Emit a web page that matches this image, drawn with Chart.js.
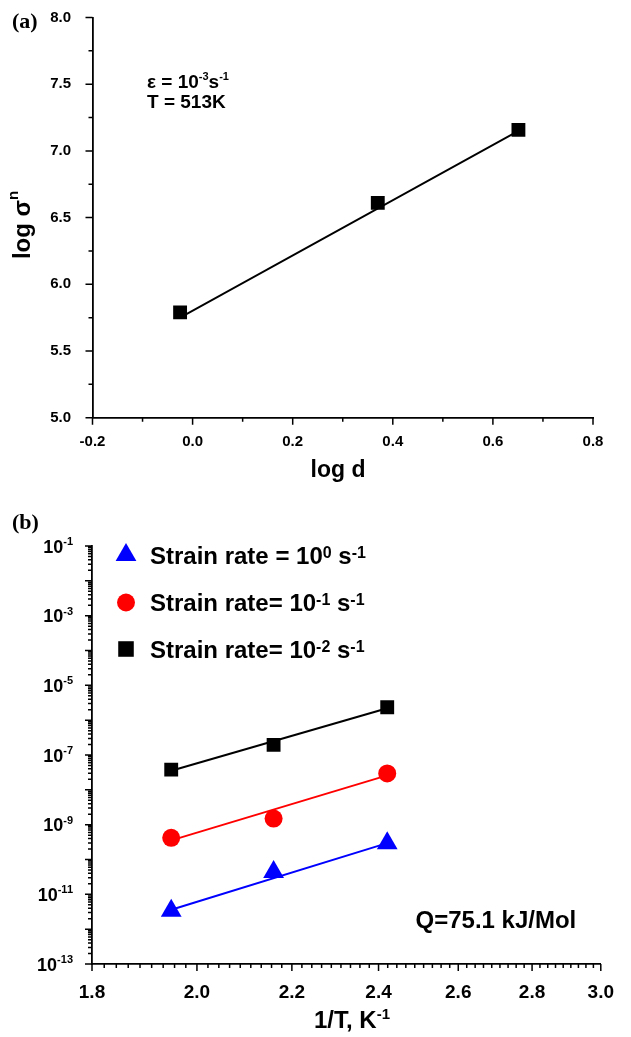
<!DOCTYPE html>
<html>
<head>
<meta charset="utf-8">
<script src="https://cdn.jsdelivr.net/npm/chart.js@4.4.1/dist/chart.umd.min.js"></script>
<style>
  html, body { margin: 0; padding: 0; background: #fff; }
  #wrap { position: relative; width: 631px; height: 1037px; }
  canvas { position: absolute; left: 0; }
  #chartA { top: 0; }
  #chartB { top: 490px; }
</style>
</head>
<body>
<div id="wrap">
  <canvas id="chartA" width="631" height="490"></canvas>
  <canvas id="chartB" width="631" height="547"></canvas>
</div>
<script>
// (a) log sigma^n against log d, strain rate 10^-3 s^-1, T = 513 K
const logD = [-0.025, 0.37, 0.651];
const logSigmaN = [5.79, 6.61, 7.158];
const fitLogD = [-0.025, 0.651];
const fitLogSigmaN = [5.75, 7.15];
const xTicksA = [-0.2, 0.0, 0.2, 0.4, 0.6, 0.8];
const yTicksA = [5.0, 5.5, 6.0, 6.5, 7.0, 7.5, 8.0];

// (b) strain rate against 1/T for three strain rates
const invT = [1.949, 2.160, 2.421];
const rate1e0 = [3.4e-12, 4.4e-11, 2.95e-10];
const rate1e1 = [4.2e-10, 1.5e-9, 2.95e-8];
const rate1e2 = [3.8e-8, 1.95e-7, 2.35e-6];
const fitInvT = [1.949, 2.421];
const fit1e0 = [3.6e-12, 2.95e-10];
const fit1e1 = [3.55e-10, 2.6e-8];
const fit1e2 = [3.55e-8, 2.2e-6];
const xTicksB = [1.8, 2.0, 2.2, 2.4, 2.6, 2.8, 3.0];
const yDecadesB = [-13, -12, -11, -10, -9, -8, -7, -6, -5, -4, -3, -2, -1];
const yLabelExpB = [-13, -11, -9, -7, -5, -3, -1];

const SANS = '"Liberation Sans", Arial, sans-serif';
const SERIF = '"Liberation Serif", "Times New Roman", serif';

function pts(xs, ys) {
    return xs.map((x, i) => ({ x: x, y: ys[i] }));
}

// text with raised parts: [text, size, rise]
function richText(ctx, x, y, parts, align) {
    let w = 0;
    parts.forEach(p => {
        ctx.font = 'bold ' + p[1] + 'px ' + SANS;
        w += ctx.measureText(p[0]).width;
    });
    let cx = x;
    if (align === 'right') cx = x - w;
    if (align === 'center') cx = x - w / 2;
    ctx.textAlign = 'left';
    ctx.textBaseline = 'alphabetic';
    parts.forEach(p => {
        ctx.font = 'bold ' + p[1] + 'px ' + SANS;
        ctx.fillText(p[0], cx, y - (p[2] || 0));
        cx += ctx.measureText(p[0]).width;
    });
}

function drawTicks(chart, spec) {
    const ctx = chart.ctx, area = chart.chartArea;
    const xs = chart.scales.x, ys = chart.scales.y;
    ctx.save();
    ctx.strokeStyle = '#000';
    ctx.lineWidth = 1.5;
    ctx.beginPath();
    spec.xMajor.forEach(v => { const p = xs.getPixelForValue(v); ctx.moveTo(p, area.bottom); ctx.lineTo(p, area.bottom + 7); });
    spec.xMinor.forEach(v => { const p = xs.getPixelForValue(v); ctx.moveTo(p, area.bottom); ctx.lineTo(p, area.bottom + 4); });
    spec.yMajor.forEach(v => { const p = ys.getPixelForValue(v); ctx.moveTo(area.left, p); ctx.lineTo(area.left - 7, p); });
    spec.yMinor.forEach(v => { const p = ys.getPixelForValue(v); ctx.moveTo(area.left, p); ctx.lineTo(area.left - 4, p); });
    ctx.stroke();
    ctx.restore();
}

function marker(ctx, style, r, x, y, color) {
    ctx.save();
    ctx.fillStyle = color;
    ctx.strokeStyle = color;
    if (Chart.helpers && Chart.helpers.drawPoint) {
        Chart.helpers.drawPoint(ctx, { pointStyle: style, radius: r, rotation: 0, borderWidth: 0 }, x, y);
    }
    ctx.restore();
}

// ---------- panel (a) ----------
const minorXA = [];
for (let i = 0; i < xTicksA.length - 1; i++) minorXA.push((xTicksA[i] + xTicksA[i + 1]) / 2);
const minorYA = [];
for (let i = 0; i < yTicksA.length - 1; i++) minorYA.push((yTicksA[i] + yTicksA[i + 1]) / 2);

const panelA = {
    id: 'panelA',
    afterDraw(chart) {
        const ctx = chart.ctx;
        const ys = chart.scales.y;
        drawTicks(chart, { xMajor: xTicksA, xMinor: minorXA, yMajor: yTicksA, yMinor: minorYA });
        ctx.save();
        ctx.fillStyle = '#000';
        // y tick labels
        ctx.font = 'bold 15px ' + SANS;
        ctx.textAlign = 'right';
        ctx.textBaseline = 'middle';
        yTicksA.forEach(v => ctx.fillText(v.toFixed(1), 71, ys.getPixelForValue(v)));
        ctx.font = 'bold 22px ' + SERIF;
        ctx.textAlign = 'left';
        ctx.textBaseline = 'alphabetic';
        ctx.fillText('(a)', 12, 28);
        richText(ctx, 147, 87.5, [['\u03b5 = 10', 19, 0], ['-3', 11, 8], ['s', 19, 0], ['-1', 11, 8]], 'left');
        richText(ctx, 147, 108, [['T = 513K', 19, 0]], 'left');
        richText(ctx, 338, 477, [['log d', 23, 0]], 'center');
        ctx.translate(30, 225);
        ctx.rotate(-Math.PI / 2);
        richText(ctx, 0, 0, [['log \u03c3', 24, 0], ['n', 15, 12]], 'center');
        ctx.restore();
    }
};

new Chart(document.getElementById('chartA'), {
    type: 'scatter',
    data: {
        datasets: [{
            data: pts(logD, logSigmaN),
            pointStyle: 'rect',
            pointRadius: 9.8,
            pointHoverRadius: 9.8,
            backgroundColor: '#000',
            borderColor: '#000',
            borderWidth: 0
        }, {
            data: pts(fitLogD, fitLogSigmaN),
            showLine: true,
            borderColor: '#000',
            borderWidth: 1.8,
            pointRadius: 0
        }]
    },
    options: {
        responsive: false,
        animation: false,
        events: [],
        layout: { padding: { left: 0, top: 17.5, right: 38, bottom: 0 } },
        plugins: { legend: { display: false }, tooltip: { enabled: false } },
        scales: {
            x: {
                type: 'linear', min: -0.2, max: 0.8,
                afterFit: s => { s.height = 72.3; },
                afterBuildTicks: s => { s.ticks = xTicksA.map(v => ({ value: v })); },
                grid: { display: false, drawTicks: false },
                border: { display: true, color: '#000', width: 1.8 },
                ticks: {
                    autoSkip: false, maxRotation: 0, padding: 15,
                    color: '#000', font: { family: SANS, weight: 'bold', size: 15 },
                    callback: v => v.toFixed(1)
                }
            },
            y: {
                type: 'linear', min: 5.0, max: 8.0,
                afterFit: s => { s.width = 92.5; },
                afterBuildTicks: s => { s.ticks = yTicksA.map(v => ({ value: v })); },
                grid: { display: false, drawTicks: false },
                border: { display: true, color: '#000', width: 1.8 },
                ticks: { display: false }
            }
        }
    },
    plugins: [panelA]
});

// ---------- panel (b) ----------
const minorXB = [];
for (let i = 0; i < xTicksB.length - 1; i++) {
    for (let k = 1; k < 9; k++) minorXB.push(xTicksB[i] + (xTicksB[i + 1] - xTicksB[i]) * k / 9);
}
const majorYB = yDecadesB.map(e => Math.pow(10, e));
const minorYB = [];
yDecadesB.slice(0, -1).forEach(e => {
    for (let k = 2; k < 10; k++) minorYB.push(k * Math.pow(10, e));
});

const legendRows = [
    { style: 'triangle', r: 12, color: '#0000ff', y: 65, parts: [['Strain rate = 10', 24, 0], ['0', 16, 6], [' s', 24, 0], ['-1', 16, 6]] },
    { style: 'circle', r: 9, color: '#ff0000', y: 112.5, parts: [['Strain rate= 10', 24, 0], ['-1', 16, 6], [' s', 24, 0], ['-1', 16, 6]] },
    { style: 'rect', r: 11, color: '#000000', y: 159, parts: [['Strain rate= 10', 24, 0], ['-2', 16, 6], [' s', 24, 0], ['-1', 16, 6]] }
];

const panelB = {
    id: 'panelB',
    afterDraw(chart) {
        const ctx = chart.ctx;
        const ys = chart.scales.y;
        drawTicks(chart, { xMajor: xTicksB, xMinor: minorXB, yMajor: majorYB, yMinor: minorYB });
        ctx.save();
        ctx.fillStyle = '#000';
        ctx.font = 'bold 22px ' + SERIF;
        ctx.textAlign = 'left';
        ctx.textBaseline = 'alphabetic';
        ctx.fillText('(b)', 12, 39);
        yLabelExpB.forEach(e => {
            const p = ys.getPixelForValue(Math.pow(10, e));
            richText(ctx, 73, p + 6.5, [['10', 18, 0], [String(e), 11, 7.5]], 'right');
        });
        legendRows.forEach(row => {
            marker(ctx, row.style, row.r, 126, row.y, row.color);
            ctx.fillStyle = '#000';
            richText(ctx, 150, row.y + 8.6, row.parts, 'left');
        });
        richText(ctx, 415.5, 438, [['Q=75.1 kJ/Mol', 24, 0]], 'left');
        richText(ctx, 352, 538, [['1/T, K', 24, 0], ['-1', 15, 9]], 'center');
        ctx.restore();
    }
};

function seriesSet(ys, style, r, color) {
    return {
        data: pts(invT, ys),
        pointStyle: style,
        pointRadius: r,
        pointHoverRadius: r,
        backgroundColor: color,
        borderColor: color,
        borderWidth: 0
    };
}
function fitSet(ys, color) {
    return {
        data: pts(fitInvT, ys),
        showLine: true,
        borderColor: color,
        borderWidth: 2,
        pointRadius: 0
    };
}

new Chart(document.getElementById('chartB'), {
    type: 'scatter',
    data: {
        datasets: [
            seriesSet(rate1e0, 'triangle', 12, '#0000ff'),
            seriesSet(rate1e1, 'circle', 9, '#ff0000'),
            seriesSet(rate1e2, 'rect', 9.8, '#000000'),
            fitSet(fit1e0, '#0000ff'),
            fitSet(fit1e1, '#ff0000'),
            fitSet(fit1e2, '#000000')
        ]
    },
    options: {
        responsive: false,
        animation: false,
        events: [],
        layout: { padding: { left: 0, top: 56, right: 16, bottom: 0 } },
        plugins: { legend: { display: false }, tooltip: { enabled: false } },
        scales: {
            x: {
                type: 'logarithmic', min: 1.8, max: 3.0, bounds: 'data',
                afterFit: s => { s.height = 73; },
                afterBuildTicks: s => { s.ticks = xTicksB.map(v => ({ value: v })); },
                grid: { display: false, drawTicks: false },
                border: { display: true, color: '#000', width: 1.8 },
                ticks: {
                    autoSkip: false, maxRotation: 0, padding: 17,
                    color: '#000', font: { family: SANS, weight: 'bold', size: 19 },
                    callback: v => Number(v).toFixed(1)
                }
            },
            y: {
                type: 'logarithmic', min: 1e-13, max: 1e-1, bounds: 'data',
                afterFit: s => { s.width = 92; },
                afterBuildTicks: s => { s.ticks = majorYB.map(v => ({ value: v })); },
                grid: { display: false, drawTicks: false },
                border: { display: true, color: '#000', width: 1.8 },
                ticks: { display: false }
            }
        }
    },
    plugins: [panelB]
});
</script>
</body>
</html>
